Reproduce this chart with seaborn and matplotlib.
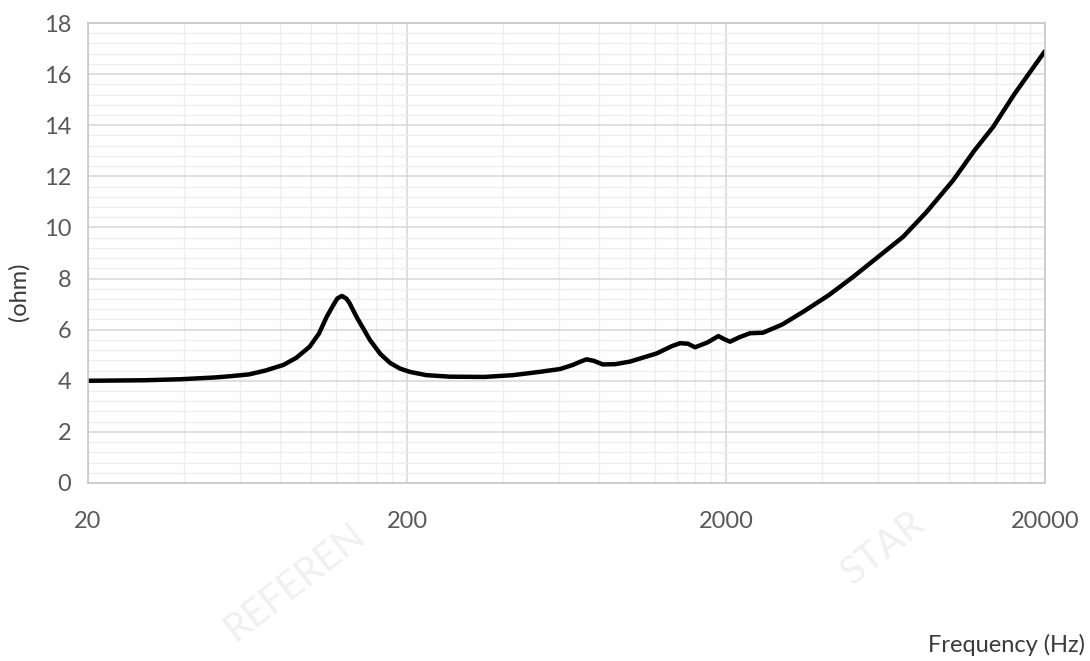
import matplotlib
matplotlib.use("Agg")
import matplotlib.pyplot as plt
import matplotlib.ticker as mticker
import seaborn as sns
import pandas as pd

# ── Data ──────────────────────────────────────────────────────────────────────
freq_hz = [20, 30, 39, 50, 56, 64, 72, 82, 90, 99, 106, 112, 118, 121, 125,
           129, 132, 139, 153, 165, 177, 190, 204, 230, 273, 350, 430, 522,
           604, 662, 700, 731, 770, 822, 900, 1000, 1213, 1350, 1435, 1520,
           1600, 1750, 1893, 1980, 2060, 2200, 2378, 2611, 3000, 3492, 4200,
           5013, 6000, 7192, 8500, 10318, 12000, 13770, 16000, 18000, 20000]
impedance = [4.00, 4.02, 4.06, 4.13, 4.18, 4.25, 4.40, 4.62, 4.90, 5.33, 5.85,
             6.50, 7.00, 7.22, 7.32, 7.22, 7.05, 6.50, 5.60, 5.05, 4.70, 4.48,
             4.35, 4.22, 4.16, 4.15, 4.22, 4.35, 4.46, 4.62, 4.75, 4.84, 4.78,
             4.64, 4.65, 4.75, 5.07, 5.35, 5.47, 5.45, 5.31, 5.50, 5.75, 5.62,
             5.53, 5.70, 5.86, 5.88, 6.20, 6.70, 7.35, 8.07, 8.85, 9.64, 10.60,
             11.85, 13.00, 13.94, 15.20, 16.10, 16.90]

x_major = [20, 200, 2000, 20000]
x_labels = ["20", "200", "2000", "20000"]
y_major = [0, 2, 4, 6, 8, 10, 12, 14, 16, 18]

TEXT_C = "#595959"
LABEL_C = "#3a3a3a"
MAJOR_C = "#d9d9d9"
MINOR_C = "#ededed"

sns.set_style("white")
plt.rcParams["font.family"] = ["Lato", "DejaVu Sans"]

df = pd.DataFrame({"Frequency": freq_hz, "Impedance": impedance})

fig = plt.figure(figsize=(10.9, 6.61), dpi=100)
ax = fig.add_axes([0.0807, 0.2693, 0.878, 0.6959])

sns.lineplot(data=df, x="Frequency", y="Impedance", ax=ax, color="black",
             linewidth=3.2, sort=False, estimator=None)

ax.set_xscale("log")
ax.set_xlim(20, 20000)
ax.set_ylim(0, 18)

# Excel-style log minor gridlines (2x..9x of each 20-based decade)
minor_x = []
for dec in x_major[:-1]:
    for k in range(2, 10):
        minor_x.append(dec * k)
ax.xaxis.set_major_locator(mticker.FixedLocator(x_major))
ax.xaxis.set_major_formatter(mticker.FixedFormatter(x_labels))
ax.xaxis.set_minor_locator(mticker.FixedLocator(minor_x))
ax.xaxis.set_minor_formatter(mticker.NullFormatter())
ax.yaxis.set_major_locator(mticker.FixedLocator(y_major))
ax.yaxis.set_minor_locator(mticker.MultipleLocator(0.4))

ax.grid(which="major", color=MAJOR_C, linewidth=1.2)
ax.grid(which="minor", color=MINOR_C, linewidth=1.0)
ax.set_axisbelow(True)

ax.tick_params(axis="both", which="both", length=0, colors=TEXT_C, labelsize=17)
ax.tick_params(axis="x", pad=20)
ax.tick_params(axis="y", pad=12)
for s in ax.spines.values():
    s.set_edgecolor("#c8c8c8")
    s.set_linewidth(1.2)

ax.set_xlabel("")
ax.set_ylabel("")
fig.text(0.017, 1 - 292 / 661, "(ohm)", rotation=90, ha="center", va="center",
         color=LABEL_C, fontsize=17)
fig.text(0.995, 1 - 645 / 661, "Frequency (Hz)", ha="right", va="center",
         color=LABEL_C, fontsize=17)

# faint watermark
fig.text(0.27, 0.12, "REFEREN", rotation=38, ha="center", va="center",
         color="#f0f0f0", fontsize=28)
fig.text(0.81, 0.17, "STAR", rotation=38, ha="center", va="center",
         color="#f0f0f0", fontsize=28)

fig.savefig("out.png", dpi=100, facecolor="white")
